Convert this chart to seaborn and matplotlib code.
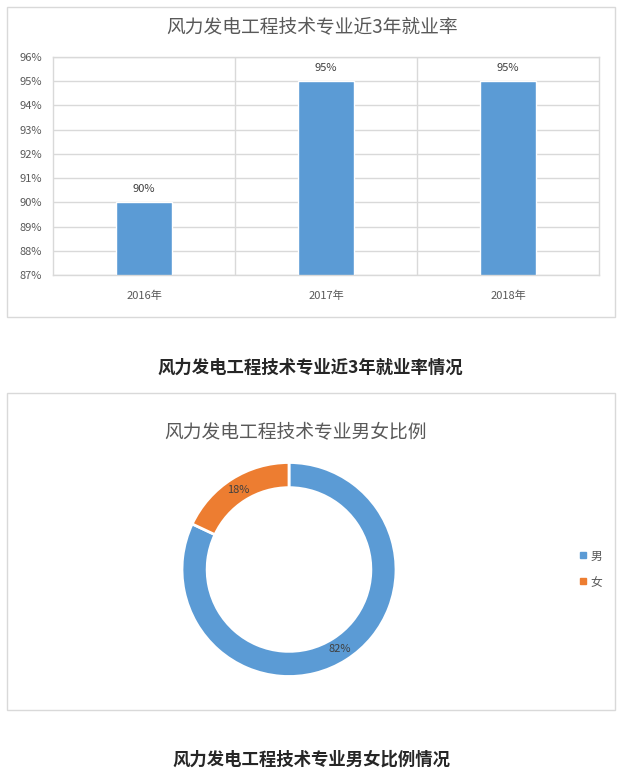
import matplotlib
matplotlib.use("Agg")
import matplotlib.pyplot as plt
import seaborn as sns
import pandas as pd
from matplotlib.patches import Rectangle
from matplotlib.lines import Line2D
from matplotlib.ticker import FuncFormatter, FixedLocator

# 数据
years = ["2016年", "2017年", "2018年"]
rates = [90, 95, 95]
genders = ["男", "女"]
ratios = [82, 18]

title_bar = "风力发电工程技术专业近3年就业率"
caption_bar = "风力发电工程技术专业近3年就业率情况"
title_pie = "风力发电工程技术专业男女比例"
caption_pie = "风力发电工程技术专业男女比例情况"

blue = "#5b9bd5"
orange = "#ed7d31"
grid_c = "#d9d9d9"
text_c = "#595959"

sns.set_theme(style="white")
plt.rcParams["font.family"] = ["Noto Sans CJK SC", "DejaVu Sans"]

W, H = 623, 777
fig = plt.figure(figsize=(W / 100, H / 100), dpi=100)

def fx(x):
    return x / W

def fy(y):
    return 1 - y / H

# 面板边框
for top, bottom in [(7, 317), (393, 710)]:
    fig.add_artist(Rectangle((fx(7), fy(bottom)), fx(615) - fx(7), fy(top) - fy(bottom),
                             transform=fig.transFigure, fill=False, edgecolor=grid_c, lw=1))

# 柱状图
df = pd.DataFrame({"年份": years, "就业率": rates})
ax = fig.add_axes([fx(53), fy(275), fx(599) - fx(53), fy(57) - fy(275)])
sns.barplot(data=df, x="年份", y="就业率", color=blue, width=0.31, saturation=1, ax=ax)
ax.set_ylim(87, 96)
ax.set_xlim(-0.5, 2.5)
ax.set_yticks(range(87, 97))
ax.yaxis.set_major_formatter(FuncFormatter(lambda v, p: f"{v:.0f}%"))
ax.xaxis.set_minor_locator(FixedLocator([0.5, 1.5]))
ax.grid(axis="y", color=grid_c, lw=1)
ax.grid(axis="x", which="minor", color=grid_c, lw=1)
ax.set_axisbelow(True)
for s in ax.spines.values():
    s.set_color(grid_c)
    s.set_linewidth(1)
ax.set_xlabel("")
ax.set_ylabel("")
ax.tick_params(axis="y", length=0, pad=8, labelsize=8, labelcolor=text_c)
ax.tick_params(axis="x", length=0, pad=11, labelsize=8, labelcolor=text_c)
ax.tick_params(axis="x", which="minor", length=0)
for c in ax.containers:
    ax.bar_label(c, labels=[f"{v:.0f}%" for v in c.datavalues], padding=6,
                 fontsize=8, color="#404040")

fig.text(fx(312), fy(28), title_bar, ha="center", va="center", fontsize=13.5, color=text_c)
fig.text(fx(310), fy(368), caption_bar, ha="center", va="center", fontsize=12.5,
         fontweight="bold", color="#262626")

# 环形图
r = 107
pax = fig.add_axes([fx(289 - r), fy(569.5 + r), fx(2 * r), (2 * r) / H])
wedges, _, autotexts = pax.pie(ratios, colors=[blue, orange], startangle=90, counterclock=False,
                               autopct="%d%%", pctdistance=0.88,
                               wedgeprops=dict(width=0.235, edgecolor="white", linewidth=2),
                               textprops=dict(fontsize=8, color="#404040"))
pax.set_xlim(-1, 1)
pax.set_ylim(-1, 1)
pax.set_aspect("equal")
pax.axis("off")

fig.text(fx(296), fy(433), title_pie, ha="center", va="center", fontsize=13.5, color=text_c)
fig.text(fx(311), fy(760), caption_pie, ha="center", va="center", fontsize=12.5,
         fontweight="bold", color="#262626")

handles = [Line2D([], [], marker="s", ls="", color=col, markersize=4) for col in [blue, orange]]
fig.legend(handles, genders, loc="center left", bbox_to_anchor=(fx(566), fy(569)),
           frameon=False, fontsize=8.5, labelspacing=1.1, handletextpad=0.2,
           handlelength=1.0, labelcolor=text_c)

fig.savefig("out.png", dpi=100)
